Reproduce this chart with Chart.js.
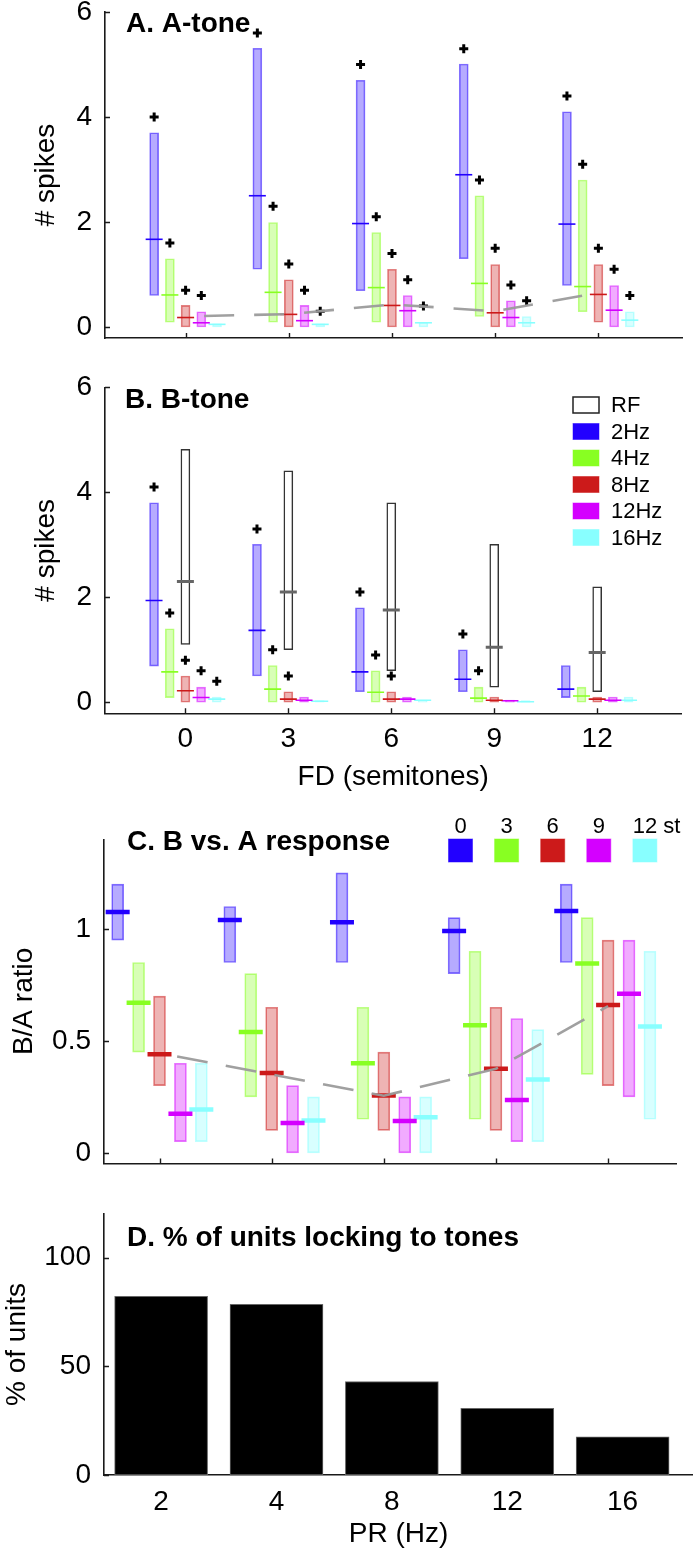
<!DOCTYPE html>
<html>
<head>
<meta charset="utf-8">
<script src="https://cdn.jsdelivr.net/npm/chart.js@4"></script>
<style>
  html, body { margin: 0; padding: 0; background: #fff; }
  body { width: 693px; height: 1555px; position: relative; overflow: hidden; }
  .panel { position: absolute; left: 0; width: 693px; }
</style>
</head>
<body>
<div class="panel" style="top:0px;height:360px"><canvas id="chartA"></canvas></div>
<div class="panel" style="top:360px;height:440px"><canvas id="chartB"></canvas></div>
<div class="panel" style="top:800px;height:380px"><canvas id="chartC"></canvas></div>
<div class="panel" style="top:1180px;height:375px"><canvas id="chartD"></canvas></div>
<script>
const fdValues = [0, 3, 6, 9, 12]
const rateLabels = ['2Hz', '4Hz', '8Hz', '12Hz', '16Hz']
const prLabels = ['2', '4', '8', '12', '16']
const stLabels = ['0', '3', '6', '9', '12']
const seriesColors = ['#2200ff', '#88ff22', '#cc1a1a', '#d400ff', '#88ffff']

// A. A-tone, rows = 2, 4, 8, 12, 16 Hz, columns = FD 0..12
const aLow = [
  [0.6, 1.1, 0.69, 1.3, 0.79],
  [0.09, 0.09, 0.09, 0.2, 0.29],
  [0, 0, 0, 0, 0.09],
  [0, 0, 0, 0, 0],
  [0, 0, 0, 0, 0],
]
const aHigh = [
  [3.7, 5.31, 4.7, 5.01, 4.1],
  [1.3, 1.99, 1.8, 2.5, 2.8],
  [0.41, 0.9, 1.1, 1.19, 1.19],
  [0.29, 0.41, 0.6, 0.5, 0.79],
  [0.06, 0.06, 0.09, 0.2, 0.29],
]
const aMedian = [
  [1.67, 2.5, 1.97, 2.9, 1.96],
  [0.61, 0.66, 0.75, 0.83, 0.77],
  [0.18, 0.24, 0.41, 0.27, 0.62],
  [0.08, 0.12, 0.31, 0.18, 0.32],
  [0.05, 0.05, 0.08, 0.08, 0.13],
]
const aPlus = [
  [4.0, 5.6, 5.0, 5.3, 4.4],
  [1.6, 2.3, 2.1, 2.8, 3.1],
  [0.7, 1.2, 1.4, 1.5, 1.5],
  [0.6, 0.7, 0.9, 0.8, 1.1],
  [null, 0.3, 0.4, 0.5, 0.6],
]
const aTrendX = [0.54, 3, 6, 9, 12]
const aTrendY = [0.21, 0.245, 0.43, 0.3, 0.65]

// B. B-tone
const bLow = [
  [0.69, 0.5, 0.2, 0.2, 0.09],
  [0.09, 0, 0, 0, 0],
  [0, 0, 0, 0, 0],
  [0, 0, 0, 0, 0],
  [0, 0, 0, 0, 0],
]
const bHigh = [
  [3.8, 3.01, 1.8, 1.0, 0.7],
  [1.4, 0.7, 0.6, 0.29, 0.29],
  [0.5, 0.2, 0.2, 0.1, 0.1],
  [0.29, 0.1, 0.1, 0.04, 0.1],
  [0.1, 0.03, 0.04, 0.03, 0.1],
]
const bMedian = [
  [1.94, 1.37, 0.58, 0.44, 0.25],
  [0.58, 0.25, 0.19, 0.08, 0.12],
  [0.22, 0.06, 0.06, 0.04, 0.06],
  [0.09, 0.04, 0.06, 0.03, 0.04],
  [0.06, 0.02, 0.04, 0.01, 0.04],
]
const bPlus = [
  [4.1, 3.3, 2.1, 1.3, null],
  [1.7, 1.0, 0.9, 0.6, null],
  [0.8, 0.5, 0.5, null, null],
  [0.6, null, null, null, null],
  [0.4, null, null, null, null],
]
const rfLow = [1.1, 1.0, 0.6, 0.29, 0.2]
const rfHigh = [4.82, 4.41, 3.8, 3.01, 2.2]
const rfMedian = [2.3, 2.1, 1.76, 1.05, 0.95]

// C. B vs. A response, rows = 0, 3, 6, 9, 12 st, columns = PR 2..16 Hz
const cLow = [
  [0.95, 0.85, 0.85, 0.8, 0.85],
  [0.45, 0.25, 0.15, 0.15, 0.35],
  [0.3, 0.1, 0.1, 0.1, 0.3],
  [0.05, 0, 0, 0.05, 0.25],
  [0.05, 0, 0, 0.05, 0.15],
]
const cHigh = [
  [1.2, 1.1, 1.25, 1.05, 1.2],
  [0.85, 0.8, 0.65, 0.9, 1.05],
  [0.7, 0.65, 0.45, 0.65, 0.95],
  [0.4, 0.3, 0.25, 0.6, 0.95],
  [0.4, 0.25, 0.25, 0.55, 0.9],
]
const cMedian = [
  [1.075, 1.04, 1.03, 0.99, 1.08],
  [0.67, 0.54, 0.4, 0.57, 0.845],
  [0.44, 0.357, 0.256, 0.375, 0.66],
  [0.175, 0.133, 0.142, 0.236, 0.71],
  [0.194, 0.144, 0.159, 0.327, 0.564],
]
const cTrendX = [0.157, 1, 2, 3, 4]
const cTrendY = [0.43, 0.35, 0.255, 0.375, 0.655]

// D. % of units locking to tones
const dPercent = [82.2, 78.5, 43.0, 30.6, 17.6]

const font = 'Liberation Sans, Arial, Helvetica, sans-serif'
const axisColor = '#1a1a1a'
const tickSize = 28

function hexToRgba(hex, a) {
  const n = parseInt(hex.slice(1), 16)
  return `rgba(${(n >> 16) & 255}, ${(n >> 8) & 255}, ${n & 255}, ${a})`
}

function boxSets(xs, step, low, high, med, plus, style) {
  const sets = []
  seriesColors.forEach((color, i) => {
    const xOf = (j) => xs[j] + (i - 2) * step
    sets.push({
      type: 'bar',
      order: 3,
      grouped: false,
      barThickness: style.barW,
      borderSkipped: false,
      borderWidth: 1,
      backgroundColor: hexToRgba(color, 0.33),
      borderColor: hexToRgba(color, 0.55),
      data: xs.map((x, j) => ({ x: xOf(j), y: [low[i][j], high[i][j]] })),
    })
    sets.push({
      type: 'scatter',
      order: 2,
      pointStyle: 'line',
      pointRadius: style.medR,
      pointBorderWidth: style.medW,
      pointBorderColor: color,
      pointBackgroundColor: color,
      data: xs.map((x, j) => ({ x: xOf(j), y: med[i][j] })),
    })
    if (plus) {
      sets.push({
        type: 'scatter',
        order: 1,
        pointStyle: 'cross',
        pointRadius: 4.5,
        pointBorderWidth: 3,
        pointBorderColor: '#000',
        data: xs
          .map((x, j) => ({ x: xOf(j), y: plus[i][j] }))
          .filter((p) => p.y !== null),
      })
    }
  })
  return sets
}

function trendSet(xs, ys, dash) {
  return {
    type: 'line',
    order: 0,
    data: xs.map((x, j) => ({ x, y: ys[j] })),
    borderColor: 'rgba(155, 155, 155, 0.95)',
    borderWidth: 2.6,
    borderDash: dash,
    pointRadius: 0,
    fill: false,
  }
}

function yScale(min, max, ticks, width, title, titlePad) {
  return {
    type: 'linear',
    min,
    max,
    afterBuildTicks: (s) => { s.ticks = ticks.map((v) => ({ value: v })) },
    afterFit: (s) => { s.width = width; s.paddingTop = 0; s.paddingBottom = 0 },
    grid: { display: false, drawTicks: false },
    border: { display: true, color: axisColor, width: 1.6 },
    ticks: {
      padding: 13,
      color: '#000',
      font: { family: font, size: tickSize },
      callback: (v) => String(v),
    },
    title: {
      display: !!title,
      text: title || '',
      color: '#000',
      font: { family: font, size: tickSize },
      padding: { top: titlePad, bottom: 0 },
    },
  }
}

function xScale(min, max, ticks, height, opts) {
  return {
    type: 'linear',
    min,
    max,
    offset: false,
    afterBuildTicks: (s) => { s.ticks = ticks.map((v) => ({ value: v })) },
    afterFit: (s) => { s.height = height; s.paddingLeft = 0; s.paddingRight = 0 },
    grid: { display: false, drawTicks: false },
    border: { display: true, color: axisColor, width: 1.6 },
    ticks: {
      display: !!opts.labels,
      padding: opts.pad || 0,
      color: '#000',
      maxRotation: 0,
      font: { family: font, size: tickSize },
      callback: opts.labels ? (v, i) => opts.labels[i] : undefined,
    },
    title: {
      display: !!opts.title,
      text: opts.title || '',
      color: '#000',
      font: { family: font, size: tickSize },
      padding: { top: 0, bottom: opts.titlePad || 0 },
    },
  }
}

// short tick marks drawn inside the axes
const inwardTicks = {
  id: 'inwardTicks',
  afterDatasetsDraw(chart, args, opts) {
    const { ctx, chartArea, scales } = chart
    ctx.save()
    ctx.strokeStyle = axisColor
    ctx.lineWidth = 1.4
    ctx.beginPath()
    if (opts.x !== false) {
      scales.x.ticks.forEach((t) => {
        const px = Math.round(scales.x.getPixelForValue(t.value)) + 0.5
        ctx.moveTo(px, chartArea.bottom)
        ctx.lineTo(px, chartArea.bottom - 5)
      })
    }
    scales.y.ticks.forEach((t) => {
      const py = Math.round(scales.y.getPixelForValue(t.value)) + 0.5
      ctx.moveTo(chartArea.left, py)
      ctx.lineTo(chartArea.left + 5, py)
    })
    ctx.stroke()
    ctx.restore()
  },
}

// panel letters and legends
const panelDecor = {
  id: 'panelDecor',
  afterDraw(chart, args, opts) {
    const { ctx } = chart
    const top = opts.top || 0
    ctx.save()
    ctx.fillStyle = '#000'
    ctx.textBaseline = 'alphabetic'
    ctx.textAlign = 'left'
    ctx.font = `bold 28px ${font}`
    ctx.fillText(opts.title, opts.titleX, opts.titleY - top)

    if (opts.legendB) {
      const lg = opts.legendB
      const labels = ['RF', ...rateLabels]
      ctx.font = `22px ${font}`
      ctx.textBaseline = 'middle'
      labels.forEach((label, i) => {
        const cy = lg.y + i * lg.step - top
        if (i === 0) {
          ctx.fillStyle = '#fff'
          ctx.fillRect(lg.x, cy - 8, 26, 16)
          ctx.strokeStyle = '#222'
          ctx.lineWidth = 1.5
          ctx.strokeRect(lg.x, cy - 8, 26, 16)
        } else {
          const color = seriesColors[i - 1]
          ctx.fillStyle = color
          ctx.fillRect(lg.x, cy - 8, 26, 16)
          ctx.strokeStyle = hexToRgba(color, 0.5)
          ctx.lineWidth = 1
          ctx.strokeRect(lg.x, cy - 8, 26, 16)
        }
        ctx.fillStyle = '#000'
        ctx.fillText(label, lg.x + 38, cy + 1)
      })
    }

    if (opts.legendC) {
      const lg = opts.legendC
      ctx.font = `22px ${font}`
      ctx.textBaseline = 'middle'
      stLabels.forEach((label, i) => {
        const cx = lg.x + i * lg.step
        const sy = lg.y - top
        ctx.fillStyle = seriesColors[i]
        ctx.fillRect(cx - 12, sy - 11.5, 24, 23)
        ctx.strokeStyle = hexToRgba(seriesColors[i], 0.5)
        ctx.lineWidth = 1
        ctx.strokeRect(cx - 12, sy - 11.5, 24, 23)
        ctx.fillStyle = '#000'
        ctx.textAlign = 'center'
        ctx.fillText(label, cx, lg.labelY - top)
        if (i === stLabels.length - 1) {
          const w = ctx.measureText(label).width
          ctx.textAlign = 'left'
          ctx.fillText(' st', cx + w / 2, lg.labelY - top)
        }
      })
    }
    ctx.restore()
  },
}

Chart.register(inwardTicks, panelDecor)

function baseOptions(scales, decor, tickOpts, padTop) {
  return {
    responsive: true,
    maintainAspectRatio: false,
    animation: false,
    events: [],
    layout: { padding: { top: padTop, left: 0, right: 0, bottom: 0 } },
    scales,
    plugins: {
      legend: { display: false },
      tooltip: { enabled: false },
      inwardTicks: tickOpts,
      panelDecor: decor,
    },
  }
}

const stepAB = 0.457
const stepCD = 0.1865

// A-tone
new Chart(document.getElementById('chartA'), {
  type: 'bar',
  data: {
    datasets: [
      trendSet(aTrendX, aTrendY, [30, 20]),
      ...boxSets(fdValues, stepAB, aLow, aHigh, aMedian, aPlus, { barW: 9, medR: 8.5, medW: 1.6 }),
    ],
  },
  options: baseOptions(
    {
      x: xScale(-2.343, 14.457, fdValues, 22, {}),
      y: yScale(-0.21, 6, [0, 2, 4, 6], 105, '# spikes', 29),
    },
    { top: 0, title: 'A. A-tone', titleX: 126, titleY: 32 },
    {},
    12
  ),
})

// B-tone
const rfIndex = 2
new Chart(document.getElementById('chartB'), {
  type: 'bar',
  data: {
    datasets: [
      ...boxSets(fdValues, stepAB, bLow, bHigh, bMedian, bPlus, { barW: 9, medR: 8.5, medW: 1.6 }),
      {
        type: 'bar',
        order: 2.5,
        grouped: false,
        barThickness: 9,
        borderSkipped: false,
        borderWidth: 1.5,
        backgroundColor: '#fff',
        borderColor: '#333',
        data: fdValues.map((x, j) => ({ x: x + (rfIndex - 2) * stepAB, y: [rfLow[j], rfHigh[j]] })),
      },
      {
        type: 'scatter',
        order: 2,
        pointStyle: 'line',
        pointRadius: 8.5,
        pointBorderWidth: 3,
        pointBorderColor: '#666',
        data: fdValues.map((x, j) => ({ x: x + (rfIndex - 2) * stepAB, y: rfMedian[j] })),
      },
    ],
  },
  options: baseOptions(
    {
      x: xScale(-2.343, 14.457, fdValues, 86.7, {
        labels: fdValues.map(String),
        pad: 9,
        title: 'FD (semitones)',
        titlePad: 6,
      }),
      y: yScale(-0.21, 6, [0, 2, 4, 6], 105, '# spikes', 29),
    },
    {
      top: 360,
      title: 'B. B-tone',
      titleX: 125,
      titleY: 408,
      legendB: { x: 573, y: 405, step: 26.5 },
    },
    {},
    27.3
  ),
})

// B vs. A response
new Chart(document.getElementById('chartC'), {
  type: 'bar',
  data: {
    datasets: [
      trendSet(cTrendX, cTrendY, [31, 18.5]),
      ...boxSets([0, 1, 2, 3, 4], stepCD, cLow, cHigh, cMedian, null, { barW: 12, medR: 12, medW: 4.5 }),
    ],
  },
  options: baseOptions(
    {
      x: xScale(-0.495, 4.61, [0, 1, 2, 3, 4], 15, {}),
      y: yScale(-0.0476, 1.4, [0, 0.5, 1], 104, 'B/A ratio', 7),
    },
    {
      top: 800,
      title: 'C. B vs. A response',
      titleX: 127,
      titleY: 850,
      legendC: { x: 460.5, y: 850.5, step: 46.1, labelY: 827 },
    },
    {},
    39.3
  ),
})

// % of units locking to tones
new Chart(document.getElementById('chartD'), {
  type: 'bar',
  data: {
    datasets: [
      {
        type: 'bar',
        grouped: false,
        barThickness: 93,
        borderSkipped: false,
        borderWidth: 1,
        backgroundColor: '#000',
        borderColor: '#666',
        data: prLabels.map((label, i) => ({ x: i, y: dPercent[i] })),
      },
    ],
  },
  options: baseOptions(
    {
      x: xScale(-0.495, 4.61, [0, 1, 2, 3, 4], 80, {
        labels: prLabels,
        pad: 10,
        title: 'PR (Hz)',
        titlePad: 4,
      }),
      y: yScale(0, 120, [0, 50, 100], 104, '% of units', 0.5),
    },
    { top: 1180, title: 'D. % of units locking to tones', titleX: 127, titleY: 1246 },
    { x: false },
    34
  ),
})
</script>
</body>
</html>
